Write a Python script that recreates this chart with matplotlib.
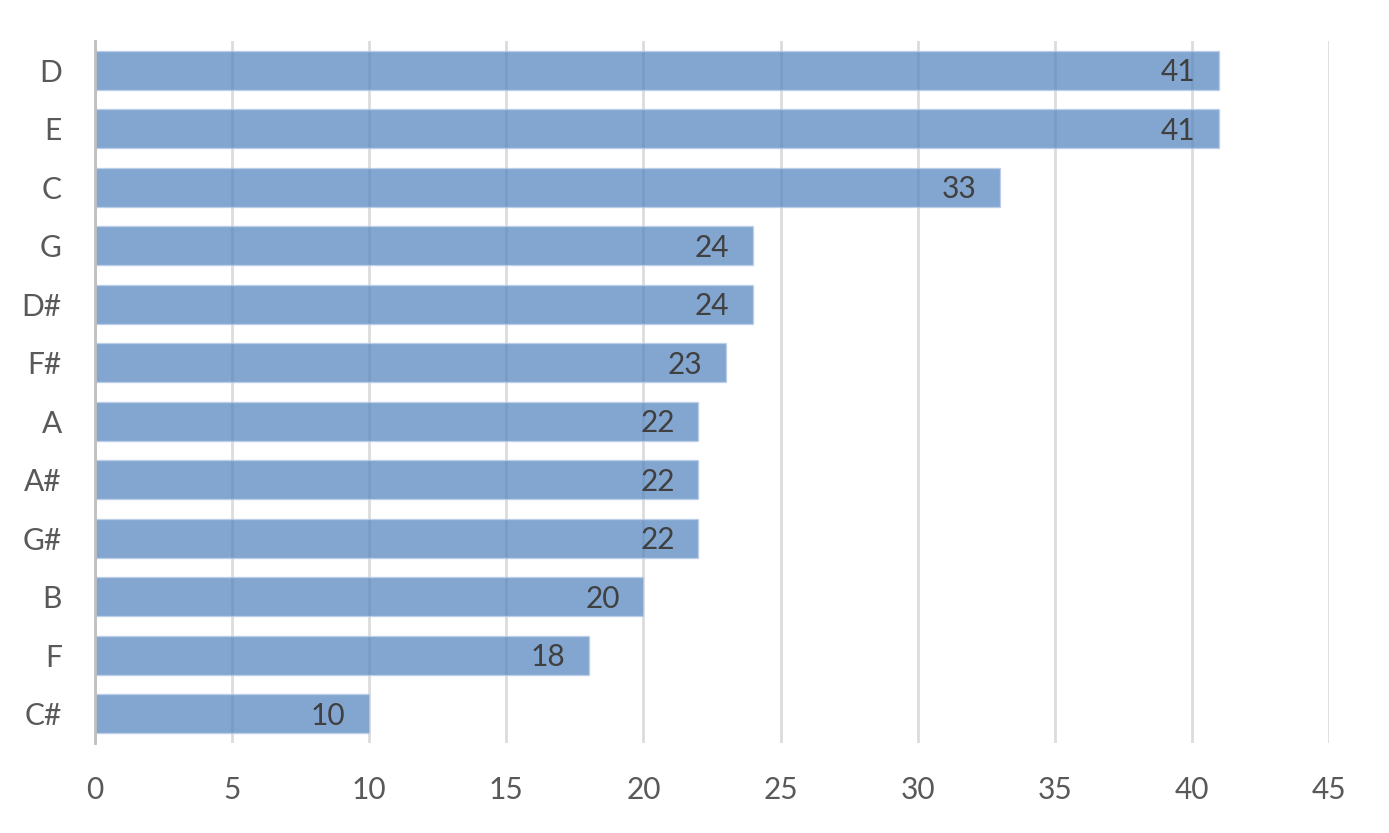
import matplotlib
matplotlib.use("Agg")
import matplotlib.pyplot as plt

categories = ["D", "E", "C", "G", "D#", "F#", "A", "A#", "G#", "B", "F", "C#"]
values = [41, 41, 33, 24, 24, 23, 22, 22, 22, 20, 18, 10]
xticks = [0, 5, 10, 15, 20, 25, 30, 35, 40, 45]

plt.rcParams['font.family'] = ['Lato', 'DejaVu Sans']

fig = plt.figure(figsize=(13.89, 8.33), dpi=100)
ax = fig.add_axes([95/1389, 1 - 743/833, (1329 - 95)/1389, (743 - 41)/833])

ypos = list(range(len(categories)))[::-1]
ax.barh(ypos, values, height=0.66, color='#4F81BD', alpha=0.7,
        edgecolor='#B8CEE8', linewidth=1.0, zorder=2)

for y, v in zip(ypos, values):
    ax.annotate(str(v), xy=(v, y), xytext=(-17, -1.5), textcoords='offset points',
                ha='right', va='center', fontsize=21.5, color='#404040', zorder=3)

ax.set_xlim(0, 45)
ax.set_ylim(-0.5, len(categories) - 0.5)
ax.set_xticks(xticks)
ax.set_xticklabels([str(t) for t in xticks])
ax.set_yticks(ypos)
ax.set_yticklabels(categories)

ax.grid(axis='x', color='#DCDCDC', linewidth=2, zorder=0)
ax.set_axisbelow(True)
for s in ['top', 'right', 'bottom']:
    ax.spines[s].set_visible(False)
ax.spines['left'].set_color('#BFBFBF')
ax.spines['left'].set_linewidth(2)
ax.spines['left'].set_zorder(4)

ax.tick_params(axis='both', length=0, labelsize=21.5, labelcolor='#595959')
ax.tick_params(axis='x', pad=24)
ax.tick_params(axis='y', pad=24)

fig.savefig("out.png", dpi=100)
